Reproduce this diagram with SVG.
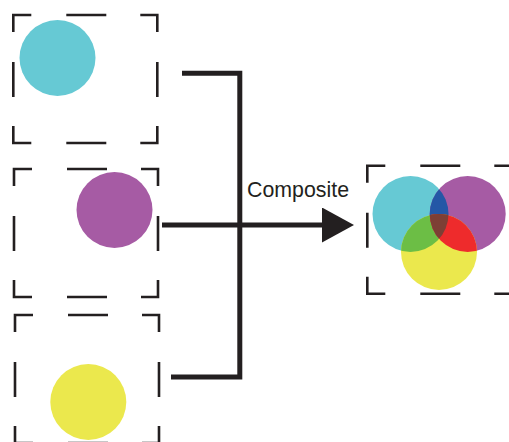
<svg xmlns="http://www.w3.org/2000/svg" xmlns:xlink="http://www.w3.org/1999/xlink" width="509" height="442" viewBox="0 0 509 442">
<style>
.frame{fill:none;stroke:#231F20;stroke-width:2.6;stroke-linejoin:miter;stroke-linecap:butt}
.conn{fill:none;stroke:#231F20;stroke-width:5;stroke-linejoin:miter}
.label{font-family:"Liberation Sans",Arial,sans-serif;font-size:22px;fill:#231F20}
</style>
<defs>
<path id="frame" d="M0,17 V0 H18 M53,0 H93 M127,0 H144 V17 M144,47 V82 M144,111 V128 H127 M93,128 H53 M18,128 H0 V111 M0,82 V47"/>
<marker id="arrow" markerUnits="userSpaceOnUse" markerWidth="34" markerHeight="36" refX="1" refY="17.5" orient="auto" viewBox="0 0 34 36">
<path d="M0,0 L32,17.5 L0,35 Z" fill="#231F20"/>
</marker>
<clipPath id="clipC"><circle cx="410.5" cy="214" r="38"/></clipPath>
<clipPath id="clipM"><circle cx="467.7" cy="214" r="38"/></clipPath>
</defs>
<g id="node-cyan">
<use xlink:href="#frame" class="frame" transform="translate(13.3,15)"/>
<circle cx="57.5" cy="58" r="38" fill="#66C9D4"/>
</g>
<g id="node-magenta">
<use xlink:href="#frame" class="frame" transform="translate(14,169)"/>
<circle cx="114.5" cy="210" r="38" fill="#A65BA4"/>
</g>
<g id="node-yellow">
<use xlink:href="#frame" class="frame" transform="translate(15,315)"/>
<circle cx="88.3" cy="402" r="38" fill="#EBE84D"/>
</g>
<g id="connectors">
<path class="conn" d="M182,73.2 H239.8 V377 H171"/>
<path class="conn" d="M162,225 H323" marker-end="url(#arrow)"/>
<text class="label" x="247" y="197" textLength="102" lengthAdjust="spacingAndGlyphs">Composite</text>
</g>
<g id="node-composite">
<use xlink:href="#frame" class="frame" transform="translate(367.3,165.7)"/>
<circle cx="410.5" cy="214" r="38" fill="#66C9D4"/>
<circle cx="467.7" cy="214" r="38" fill="#A65BA4"/>
<circle cx="439" cy="252" r="38" fill="#EBE84D"/>
<circle cx="467.7" cy="214" r="38" fill="#2457A6" clip-path="url(#clipC)"/>
<circle cx="439" cy="252" r="38" fill="#6CBE45" clip-path="url(#clipC)"/>
<circle cx="439" cy="252" r="38" fill="#EE2B2C" clip-path="url(#clipM)"/>
<g clip-path="url(#clipM)">
<circle cx="439" cy="252" r="38" fill="#7D3F35" clip-path="url(#clipC)"/>
</g>
</g>
</svg>
